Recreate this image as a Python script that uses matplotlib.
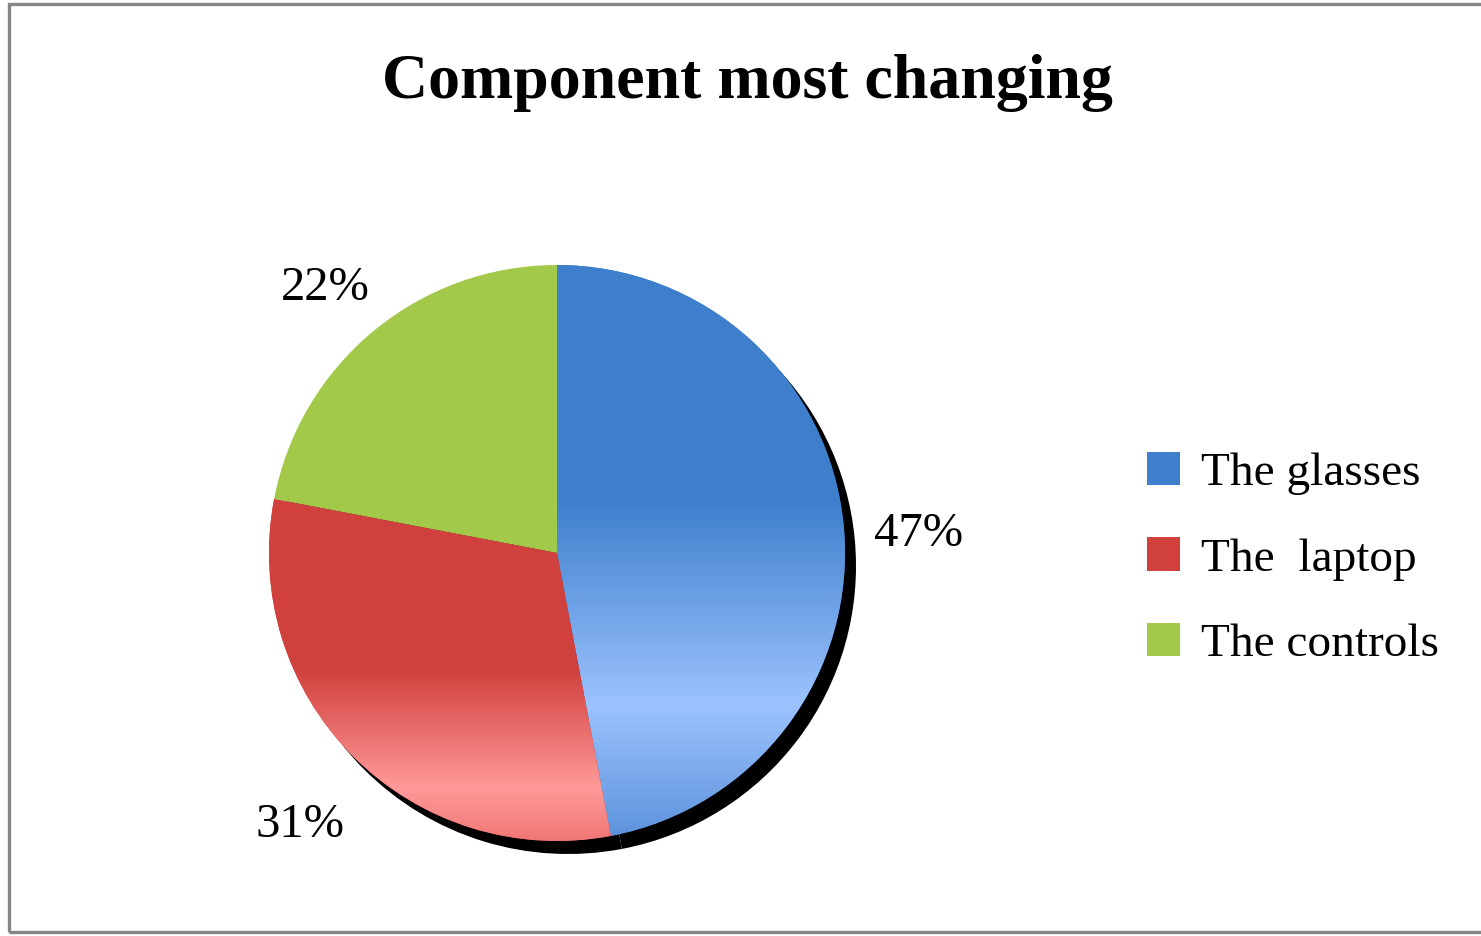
import numpy as np
import matplotlib.pyplot as plt
from matplotlib.colors import LinearSegmentedColormap
from matplotlib.patches import Rectangle

# ---- data ----
categories = ["The glasses", "The  laptop", "The controls"]
shares = [47, 31, 22]
title = "Component most changing"

base_colors = ["#3E80CD", "#D0413E", "#A2C94A"]
# vertical gradient stops per slice (data y, colour); None = flat fill
grad_stops = [
    [(1.0, "#3E7FCC"), (0.18, "#3E7FCC"), (-0.53, "#9CC3FF"), (-1.0, "#5C92DB")],
    [(1.0, "#D0413E"), (-0.41, "#D0413E"), (-0.82, "#FF9999"), (-1.0, "#F07876")],
    None,
]

plt.rcParams['font.family'] = ['Liberation Serif', 'DejaVu Serif']

W, H = 1481, 936
fig = plt.figure(figsize=(W / 100, H / 100), dpi=100)

# outer chart border
fig.patches.append(Rectangle((9 / W, 4 / H), 1.2, 1 - 8 / H, transform=fig.transFigure,
                             fill=False, edgecolor="#868686", linewidth=2.4))

# pie axes: centre (557, 553) px, radius 288 px
R = 288
half = 300
ax = fig.add_axes([(557 - half) / W, (H - 553 - half) / H, 2 * half / W, 2 * half / H])

# shadow
ax.pie(shares, startangle=90, counterclock=False, colors=["black"] * 3,
       center=(11 / R, -13 / R), radius=1.0, frame=True,
       wedgeprops=dict(linewidth=0))

wedges, _, pcts = ax.pie(shares, startangle=90, counterclock=False, colors=base_colors,
                         autopct='%1.0f%%', pctdistance=1.26, frame=True,
                         wedgeprops=dict(linewidth=0),
                         textprops=dict(fontsize=35, color="black"))
for t in pcts:
    t.set_verticalalignment('center_baseline')
    px, py = t.get_position()
    t.set_position((px, py - 10 / R))
ax.set_xlim(-half / R, half / R)
ax.set_ylim(-half / R, half / R)
ax.set_aspect('equal')
ax.axis('off')

# gradient fills clipped to each wedge
yy = np.linspace(1, -1, 400).reshape(-1, 1)
for w, stops in zip(wedges, grad_stops):
    if stops is None:
        continue
    ys = [s[0] for s in stops][::-1]
    cs = [s[1] for s in stops][::-1]
    pos = [(y - ys[0]) / (ys[-1] - ys[0]) for y in ys]
    cmap = LinearSegmentedColormap.from_list("g", list(zip(pos, cs)))
    img = ax.imshow(yy, cmap=cmap, vmin=-1, vmax=1, extent=(-1, 1, -1, 1),
                    aspect='auto', interpolation='bilinear', zorder=w.get_zorder() + 0.1)
    img.set_clip_path(w)

fig.text(747 / W, 1 - 83 / H, title, ha='center', va='center',
         fontsize=46, fontweight='bold')

fig.legend(wedges, categories, loc='center left',
           bbox_to_anchor=(1147 / W, 1 - 559 / H), frameon=False,
           fontsize=34, handlelength=0.7, handleheight=0.7,
           handletextpad=0.45, labelspacing=0.9, borderaxespad=0, borderpad=0)

fig.savefig("out.png", dpi=100)
